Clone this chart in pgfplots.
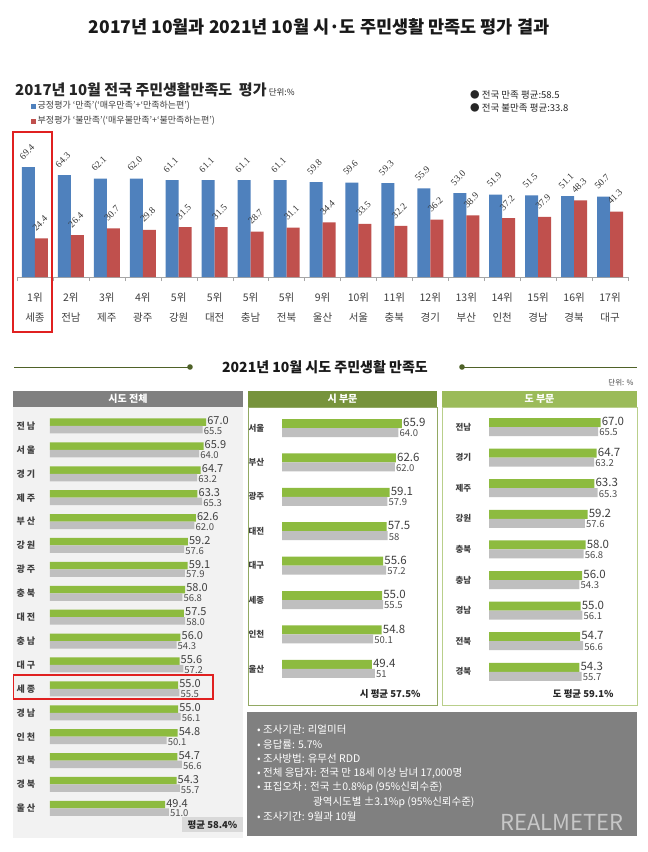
\documentclass[border=0pt]{standalone}
\usepackage{pgfplots}
\pgfplotsset{compat=1.18}
\usepackage{fontspec}
\setmainfont{Noto Sans CJK KR}
\newfontfamily\serif{Liberation Serif}
\newcommand{\fs}[1]{\fontsize{#1}{1.2\dimexpr#1pt\relax}\selectfont}

\definecolor{xlblue}{HTML}{4F81BD}
\definecolor{xlred}{HTML}{C0504D}
\definecolor{bargreen}{HTML}{8DBB3F}
\definecolor{bargray}{HTML}{BFBFBF}
\definecolor{hdgray}{HTML}{808080}
\definecolor{hdgreen}{HTML}{77933C}
\definecolor{hdlight}{HTML}{9BBB59}
\definecolor{txt}{HTML}{404040}
\definecolor{olive}{HTML}{4F6228}
\definecolor{boxred}{HTML}{E02020}

\begin{document}
\begin{tikzpicture}
\path[use as bounding box, fill=white] (0pt,0pt) rectangle (648pt,-852pt);

% backgrounds and plain text
\begin{scope}[x=1pt,y=-1pt]
\node[font=\bfseries\fs{17.5}, text=black!90] at (319,27) {2017년 10월과 2021년 10월 시·도 주민생활 만족도 평가 결과};

\node[anchor=west, text=black!85, inner sep=0pt] at (15,90)
  {{\bfseries\fs{15}2017년 10월 전국 주민생활만족도\ \ 평가}\ {\fs{8.5}단위:\%}};
\node[anchor=west, font=\fs{9}, text=txt, inner sep=0pt] at (31,106)
  {{\color{xlblue}\rule{5pt}{5pt}}\,긍정평가 ‘만족’(‘매우만족’+‘만족하는편’)};
\node[anchor=west, font=\fs{9}, text=txt, inner sep=0pt] at (31,121)
  {{\color{xlred}\rule{5pt}{5pt}}\,부정평가 ‘불만족’(‘매우불만족’+‘불만족하는편’)};
\node[anchor=west, font=\fs{9.5}, text=black!85, inner sep=0pt] at (470,95) {● 전국 만족 평균:58.5};
\node[anchor=west, font=\fs{9.5}, text=black!85, inner sep=0pt] at (470,108) {● 전국 불만족 평균:33.8};

% 2021 section
\draw[olive, line width=1pt] (14,367) -- (190,367);
\fill[olive] (190,367) circle (2.8pt);
\draw[olive, line width=1pt] (462,367) -- (637,367);
\fill[olive] (462,367) circle (2.8pt);
\node[font=\bfseries\fs{14}, text=black!90] at (325,367) {2021년 10월 시도 주민생활 만족도};
\node[anchor=east, font=\fs{7.5}, text=txt] at (637,383) {단위: \%};

\fill[hdgray] (13,391) rectangle (243,407);
\fill[hdgreen] (248,391) rectangle (437,407);
\fill[hdlight] (442,391) rectangle (637,407);
\node[font=\bfseries\fs{10}, text=white] at (128,399) {시도 전체};
\node[font=\bfseries\fs{10}, text=white] at (342.5,399) {시 부문};
\node[font=\bfseries\fs{10}, text=white] at (539.5,399) {도 부문};

\fill[black!5] (13,407) rectangle (243,838);
\draw[hdgreen!80, line width=0.8pt] (248,407) rectangle (437,705);
\draw[hdlight!70, line width=0.8pt] (442,407) rectangle (637,705);

\fill[black!15] (182,817) rectangle (243,832);
\node[font=\bfseries\fs{9.5}, text=black!85] at (212.5,824.5) {평균 58.4\%};
\node[anchor=east, font=\bfseries\fs{9.5}, text=black!85] at (424,694) {시 평균 57.5\%};
\node[anchor=east, font=\bfseries\fs{9.5}, text=black!85] at (617,694) {도 평균 59.1\%};

\fill[black!50] (247,712) rectangle (637,836);
\begin{scope}[every node/.style={anchor=west, font=\fs{10.5}, text=white!95, inner sep=0pt}]
\node at (257,730) {• 조사기관: 리얼미터};
\node at (257,744.5) {• 응답률: 5.7\%};
\node at (257,759) {• 조사방법: 유무선 RDD};
\node at (257,773) {• 전체 응답자: 전국 만 18세 이상 남녀 17,000명};
\node at (257,787.5) {• 표집오차 : 전국 ±0.8\%p (95\%신뢰수준)};
\node at (313,802) {광역시도별 ±3.1\%p (95\%신뢰수준)};
\node at (257,817) {• 조사기간: 9월과 10월};
\end{scope}
\node[anchor=south east, font=\fs{22}, text=black!22, inner sep=0pt] at (624,831) {REALMETER};
\end{scope}

% 2017 chart
\begin{axis}[
  at={(17pt,-277pt)}, anchor=south west,
  scale only axis, width=611pt, height=126.8pt,
  xmin=0.5, xmax=17.5, ymin=0, ymax=80,
  axis x line*=bottom, axis y line=none,
  x axis line style={draw=black!35, -},
  ybar=0pt, bar width=13pt,
  xtick={1,...,17},
  xticklabels={{1위\\세종},{2위\\전남},{3위\\제주},{4위\\광주},{5위\\강원},{5위\\대전},{5위\\충남},{5위\\전북},{9위\\울산},{10위\\서울},{11위\\충북},{12위\\경기},{13위\\부산},{14위\\인천},{15위\\경남},{16위\\경북},{17위\\대구}},
  xticklabel style={font=\fontsize{10.5}{20}\selectfont, align=center, text=txt, yshift=-12pt},
  major tick length=0pt,
  extra x ticks={0.5,1.5,...,17.5},
  extra x tick labels={},
  extra x tick style={major tick length=4pt, tick align=outside, tick style={draw=black!35}},
  point meta=explicit symbolic,
  nodes near coords,
  every node near coord/.append style={font=\serif\fs{9.5}, text=black!80, xshift=-7.5pt, yshift=9pt, rotate=45, anchor=west, inner sep=0pt},
  clip=false,
]
\addplot[fill=xlblue, draw=none] coordinates {
 (1,69.4)[69.4] (2,64.3)[64.3] (3,62.1)[62.1] (4,62.0)[62.0] (5,61.1)[61.1]
 (6,61.1)[61.1] (7,61.1)[61.1] (8,61.1)[61.1] (9,59.8)[59.8] (10,59.6)[59.6]
 (11,59.3)[59.3] (12,55.9)[55.9] (13,53.0)[53.0] (14,51.9)[51.9] (15,51.5)[51.5]
 (16,51.1)[51.1] (17,50.7)[50.7]};
\addplot[fill=xlred, draw=none] coordinates {
 (1,24.4)[24.4] (2,26.4)[26.4] (3,30.7)[30.7] (4,29.8)[29.8] (5,31.5)[31.5]
 (6,31.5)[31.5] (7,28.7)[28.7] (8,31.1)[31.1] (9,34.4)[34.4] (10,33.5)[33.5]
 (11,32.2)[32.2] (12,36.2)[36.2] (13,38.9)[38.9] (14,37.2)[37.2] (15,37.9)[37.9]
 (16,48.3)[48.3] (17,41.3)[41.3]};
\end{axis}

% 2021 all regions
\begin{axis}[
  at={(50pt,-414pt)}, anchor=north west,
  scale only axis, width=186.4pt, height=406.3pt,
  xmin=0, xmax=80, ymin=0.5, ymax=17.5,
  axis line style={draw=none}, tick style={draw=none},
  xtick=\empty, ytick={1,...,17},
  yticklabels={울 산,경 북,전 북,인 천,경 남,세 종,대 구,충 남,대 전,충 북,광 주,강 원,부 산,제 주,경 기,서 울,전 남},
  yticklabel style={font=\bfseries\fs{9}, text=txt, xshift=-7pt},
  xbar=0pt, bar width=7.5pt,
  point meta=explicit symbolic, nodes near coords,
  clip=false,
]
\addplot[fill=bargreen, draw=none, bar shift=3.75pt,
  every node near coord/.append style={font=\fs{11}, text=txt, anchor=west, inner sep=1pt, yshift=1.5pt}] coordinates {
 (67.0,17)[67.0] (65.9,16)[65.9] (64.7,15)[64.7] (63.3,14)[63.3] (62.6,13)[62.6]
 (59.2,12)[59.2] (59.1,11)[59.1] (58.0,10)[58.0] (57.5,9)[57.5] (56.0,8)[56.0]
 (55.6,7)[55.6] (55.0,6)[55.0] (55.0,5)[55.0] (54.8,4)[54.8] (54.7,3)[54.7]
 (54.3,2)[54.3] (49.4,1)[49.4]};
\addplot[fill=bargray, draw=none, bar shift=-3.75pt,
  every node near coord/.append style={font=\fs{9.5}, text=black!70, anchor=west, inner sep=1pt, yshift=-1.5pt}] coordinates {
 (65.5,17)[65.5] (64.0,16)[64.0] (63.2,15)[63.2] (65.3,14)[65.3] (62.0,13)[62.0]
 (57.6,12)[57.6] (57.9,11)[57.9] (56.8,10)[56.8] (58.0,9)[58.0] (54.3,8)[54.3]
 (57.2,7)[57.2] (55.5,6)[55.5] (56.1,5)[56.1] (50.1,4)[50.1] (56.6,3)[56.6]
 (55.7,2)[55.7] (51.0,1)[51.0]};
\end{axis}

% 2021 cities
\begin{axis}[
  at={(282pt,-410.8pt)}, anchor=north west,
  scale only axis, width=145.6pt, height=275.2pt,
  xmin=0, xmax=80, ymin=0.5, ymax=8.5,
  axis line style={draw=none}, tick style={draw=none},
  xtick=\empty, ytick={1,...,8},
  yticklabels={울산,인천,세종,대구,대전,광주,부산,서울},
  yticklabel style={font=\bfseries\fs{8.5}, text=txt, xshift=-10pt},
  xbar=0pt, bar width=9pt,
  point meta=explicit symbolic, nodes near coords,
  clip=false,
]
\addplot[fill=bargreen, draw=none, bar shift=4.5pt,
  every node near coord/.append style={font=\fs{11.5}, text=txt, anchor=west, inner sep=1pt, yshift=1pt}] coordinates {
 (65.9,8)[65.9] (62.6,7)[62.6] (59.1,6)[59.1] (57.5,5)[57.5]
 (55.6,4)[55.6] (55.0,3)[55.0] (54.8,2)[54.8] (49.4,1)[49.4]};
\addplot[fill=bargray, draw=none, bar shift=-4.5pt,
  every node near coord/.append style={font=\fs{9.5}, text=black!70, anchor=west, inner sep=1pt, yshift=-1pt}] coordinates {
 (64.0,8)[64.0] (62.0,7)[62.0] (57.9,6)[57.9] (58,5)[58]
 (57.2,4)[57.2] (55.5,3)[55.5] (50.1,2)[50.1] (51,1)[51]};
\end{axis}

% 2021 provinces
\begin{axis}[
  at={(489pt,-411.7pt)}, anchor=north west,
  scale only axis, width=133.2pt, height=275.4pt,
  xmin=0, xmax=80, ymin=0.5, ymax=9.5,
  axis line style={draw=none}, tick style={draw=none},
  xtick=\empty, ytick={1,...,9},
  yticklabels={경북,전북,경남,충남,충북,강원,제주,경기,전남},
  yticklabel style={font=\bfseries\fs{8.5}, text=txt, xshift=-10pt},
  xbar=0pt, bar width=9pt,
  point meta=explicit symbolic, nodes near coords,
  clip=false,
]
\addplot[fill=bargreen, draw=none, bar shift=4.5pt,
  every node near coord/.append style={font=\fs{11.5}, text=txt, anchor=west, inner sep=1pt, yshift=1pt}] coordinates {
 (67.0,9)[67.0] (64.7,8)[64.7] (63.3,7)[63.3] (59.2,6)[59.2] (58.0,5)[58.0]
 (56.0,4)[56.0] (55.0,3)[55.0] (54.7,2)[54.7] (54.3,1)[54.3]};
\addplot[fill=bargray, draw=none, bar shift=-4.5pt,
  every node near coord/.append style={font=\fs{9.5}, text=black!70, anchor=west, inner sep=1pt, yshift=-1pt}] coordinates {
 (65.5,9)[65.5] (63.2,8)[63.2] (65.3,7)[65.3] (57.6,6)[57.6] (56.8,5)[56.8]
 (54.3,4)[54.3] (56.1,3)[56.1] (56.6,2)[56.6] (55.7,1)[55.7]};
\end{axis}

% highlight boxes
\begin{scope}[x=1pt,y=-1pt]
\draw[boxred, line width=2pt] (12.5,132) rectangle (51.5,332);
\draw[boxred, line width=1.5pt] (13.5,675) rectangle (213,699);
\end{scope}
\end{tikzpicture}
\end{document}
